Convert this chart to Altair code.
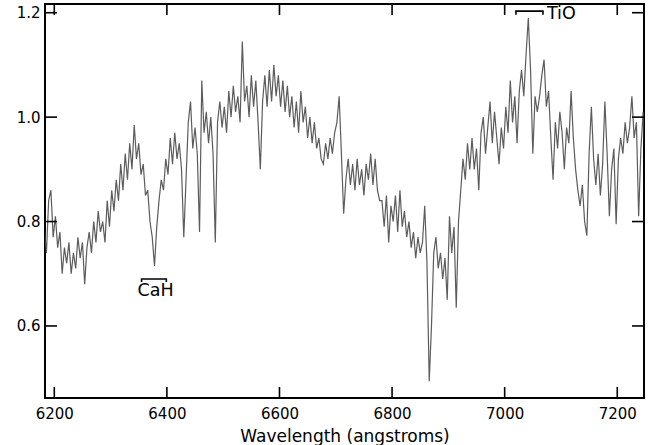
import altair as alt
import pandas as pd

# Wavelength grid (angstroms) and flux values
wavelength = [
    6182, 6186, 6190, 6194, 6198, 6202, 6206, 6210, 6214, 6218,
    6222, 6226, 6230, 6234, 6238, 6242, 6246, 6250, 6254, 6258,
    6262, 6266, 6270, 6274, 6278, 6282, 6286, 6290, 6294, 6298,
    6302, 6306, 6310, 6314, 6318, 6322, 6326, 6330, 6334, 6338,
    6342, 6346, 6350, 6354, 6358, 6362, 6366, 6370, 6374, 6378,
    6382, 6386, 6390, 6394, 6398, 6402, 6406, 6410, 6414, 6418,
    6422, 6426, 6430, 6434, 6438, 6442, 6446, 6450, 6454, 6458,
    6462, 6466, 6470, 6474, 6478, 6482, 6486, 6490, 6494, 6498,
    6502, 6506, 6510, 6514, 6518, 6522, 6526, 6530, 6534, 6538,
    6542, 6546, 6550, 6554, 6558, 6562, 6566, 6570, 6574, 6578,
    6582, 6586, 6590, 6594, 6598, 6602, 6606, 6610, 6614, 6618,
    6622, 6626, 6630, 6634, 6638, 6642, 6646, 6650, 6654, 6658,
    6662, 6666, 6670, 6674, 6678, 6682, 6686, 6690, 6694, 6698,
    6702, 6706, 6710, 6714, 6718, 6722, 6726, 6730, 6734, 6738,
    6742, 6746, 6750, 6754, 6758, 6762, 6766, 6770, 6774, 6778,
    6782, 6786, 6790, 6794, 6798, 6802, 6806, 6810, 6814, 6818,
    6822, 6826, 6830, 6834, 6838, 6842, 6846, 6850, 6854, 6858,
    6862, 6866, 6870, 6874, 6878, 6882, 6886, 6890, 6894, 6898,
    6902, 6906, 6910, 6914, 6918, 6922, 6926, 6930, 6934, 6938,
    6942, 6946, 6950, 6954, 6958, 6962, 6966, 6970, 6974, 6978,
    6982, 6986, 6990, 6994, 6998, 7002, 7006, 7010, 7014, 7018,
    7022, 7026, 7030, 7034, 7038, 7042, 7046, 7050, 7054, 7058,
    7062, 7066, 7070, 7074, 7078, 7082, 7086, 7090, 7094, 7098,
    7102, 7106, 7110, 7114, 7118, 7122, 7126, 7130, 7134, 7138,
    7142, 7146, 7150, 7154, 7158, 7162, 7166, 7170, 7174, 7178,
    7182, 7186, 7190, 7194, 7198, 7202, 7206, 7210, 7214, 7218,
    7222, 7226, 7230, 7234, 7238, 7242, 7246, 7250,
]
flux = [
    0.79, 0.74, 0.84, 0.86, 0.77, 0.81, 0.75, 0.78, 0.70, 0.75,
    0.72, 0.76, 0.70, 0.74, 0.71, 0.77, 0.73, 0.76, 0.68, 0.75,
    0.78, 0.74, 0.80, 0.76, 0.82, 0.78, 0.80, 0.76, 0.84, 0.79,
    0.86, 0.82, 0.88, 0.84, 0.91, 0.86, 0.93, 0.88, 0.95, 0.90,
    0.985, 0.92, 0.95, 0.89, 0.91, 0.85, 0.86, 0.80, 0.77, 0.715,
    0.79, 0.84, 0.88, 0.86, 0.92, 0.89, 0.96, 0.91, 0.97, 0.92,
    0.95, 0.90, 0.77, 0.88, 0.99, 1.03, 0.94, 0.98, 0.93, 0.78,
    1.07, 0.97, 1.01, 0.95, 1.00, 0.93, 0.76, 0.99, 1.03, 0.98,
    1.02, 0.97, 1.05, 1.00, 1.06, 1.01, 1.04, 0.99, 1.145, 1.03,
    1.06, 1.00, 1.08, 1.02, 1.07, 0.99, 0.90, 1.03, 1.08, 1.02,
    1.09, 1.03, 1.10, 1.04, 1.08, 1.02, 1.07, 1.01, 1.06, 1.00,
    1.04, 0.98, 1.03, 0.97, 1.05, 0.99, 1.02, 0.96, 1.00, 0.95,
    0.99, 0.94, 0.96, 0.92, 0.91, 0.95, 0.92, 0.96, 0.93, 0.97,
    0.99, 1.04, 0.93, 0.815, 0.88, 0.92, 0.87, 0.91, 0.86, 0.92,
    0.87, 0.90, 0.85, 0.91, 0.88, 0.93, 0.87, 0.92, 0.86, 0.84,
    0.84, 0.79, 0.85, 0.76, 0.83, 0.80, 0.85, 0.78, 0.86, 0.79,
    0.82, 0.77, 0.80, 0.75, 0.78, 0.73, 0.77, 0.74, 0.76, 0.83,
    0.72, 0.494, 0.60, 0.74, 0.77, 0.71, 0.74, 0.69, 0.73, 0.65,
    0.81, 0.74, 0.79, 0.635, 0.80, 0.86, 0.92, 0.88, 0.95, 0.90,
    0.96, 0.90, 0.94, 0.86, 0.97, 1.00, 0.93, 0.98, 1.03, 0.95,
    1.01, 0.96, 0.91, 0.98, 0.94, 1.02, 0.97, 1.07, 0.99, 1.04,
    0.95, 1.05, 1.09, 1.04, 1.12, 1.19, 1.09, 0.93, 1.04, 1.01,
    1.04, 1.08, 1.11, 1.02, 1.05, 0.96, 0.88, 0.99, 0.94, 1.01,
    0.97, 0.90, 0.98, 0.95, 1.05, 0.96, 0.90, 0.86, 0.83, 0.87,
    0.80, 0.773, 0.93, 1.02, 0.92, 0.87, 0.93, 0.85, 0.91, 1.03,
    0.93, 0.81, 0.90, 0.94, 0.795, 0.92, 0.96, 0.93, 0.99, 0.95,
    0.98, 1.04, 0.96, 0.99, 0.81, 0.94, 1.01, 0.90,
]

x_ticks = [6200, 6400, 6600, 6800, 7000, 7200]
y_ticks = [0.6, 0.8, 1.0, 1.2]

# band annotations: label, start, end, bracket level, label position
band_labels = ["CaH", "TiO"]
band_start = [6355, 7020]
band_end = [6399, 7068]
band_level = [0.690, 1.203]
band_tip = [0.684, 1.196]
label_x = [6380, 7075]
label_y = [0.667, 1.197]

X_DOMAIN = [6183.5, 7247.5]
Y_DOMAIN = [0.462, 1.2167]
W, H = 599, 394
FONT = "DejaVu Sans"

spec = pd.DataFrame({"wl": wavelength, "flux": flux})

xs = alt.Scale(domain=X_DOMAIN, nice=False, zero=False)
ys = alt.Scale(domain=Y_DOMAIN, nice=False, zero=False)
xaxis = alt.Axis(
    values=x_ticks, format="d", domain=False, ticks=False, tickSize=0,
    grid=False, labelFont=FONT, labelFontSize=15, labelColor="black",
    labelPadding=8, title="Wavelength (angstroms)", titleFont=FONT,
    titleFontSize=17, titleFontWeight="normal", titleColor="black",
    titlePadding=7)
yaxis = alt.Axis(
    values=y_ticks, format=".1f", domain=False, ticks=False, tickSize=0,
    grid=False, labelFont=FONT, labelFontSize=15, labelColor="black",
    labelPadding=5, title=None)

line = alt.Chart(spec).mark_line(
    color="#4a4a4a", strokeWidth=1.2, opacity=0.9, clip=True
).encode(
    x=alt.X("wl:Q", scale=xs, axis=xaxis),
    y=alt.Y("flux:Q", scale=ys, axis=yaxis),
)

xt = pd.DataFrame({"v": x_ticks})
yt = pd.DataFrame({"v": y_ticks})
TL = 11
bottom_ticks = alt.Chart(xt).mark_rule(color="black", strokeWidth=1.6).encode(
    x=alt.X("v:Q", scale=xs, axis=xaxis), y=alt.value(H), y2=alt.value(H - TL))
top_ticks = alt.Chart(xt).mark_rule(color="black", strokeWidth=1.6).encode(
    x=alt.X("v:Q", scale=xs, axis=xaxis), y=alt.value(0), y2=alt.value(TL))
left_ticks = alt.Chart(yt).mark_rule(color="black", strokeWidth=1.6).encode(
    y=alt.Y("v:Q", scale=ys, axis=yaxis), x=alt.value(0), x2=alt.value(TL + 1))
right_ticks = alt.Chart(yt).mark_rule(color="black", strokeWidth=1.6).encode(
    y=alt.Y("v:Q", scale=ys, axis=yaxis), x=alt.value(W), x2=alt.value(W - TL - 1))

rows = []
for i, lab in enumerate(band_labels):
    rows += [
        {"band": lab, "o": 0, "x": band_start[i], "y": band_tip[i]},
        {"band": lab, "o": 1, "x": band_start[i], "y": band_level[i]},
        {"band": lab, "o": 2, "x": band_end[i], "y": band_level[i]},
        {"band": lab, "o": 3, "x": band_end[i], "y": band_tip[i]},
    ]
brackets = alt.Chart(pd.DataFrame(rows)).mark_line(
    color="black", strokeWidth=1.6).encode(
    x=alt.X("x:Q", scale=xs, axis=xaxis),
    y=alt.Y("y:Q", scale=ys, axis=yaxis),
    detail="band:N", order="o:Q")

lab_df = pd.DataFrame({"t": band_labels, "x": label_x, "y": label_y})
cah = alt.Chart(lab_df.iloc[[0]]).mark_text(
    font=FONT, fontSize=17.5, color="black", align="center", baseline="middle"
).encode(x=alt.X("x:Q", scale=xs, axis=xaxis),
         y=alt.Y("y:Q", scale=ys, axis=yaxis), text="t:N")
tio = alt.Chart(lab_df.iloc[[1]]).mark_text(
    font=FONT, fontSize=17.5, color="black", align="left", baseline="middle"
).encode(x=alt.X("x:Q", scale=xs, axis=xaxis),
         y=alt.Y("y:Q", scale=ys, axis=yaxis), text="t:N")

chart = alt.layer(
    line, bottom_ticks, top_ticks, left_ticks, right_ticks, brackets, cah, tio
).properties(
    width=W, height=H,
    autosize=alt.AutoSizeParams(type="none"),
    padding={"left": 45, "top": 4, "right": 10, "bottom": 47},
    background="white",
).configure_view(
    stroke="black", strokeWidth=2
)

chart.save("out.html", embed_options={"renderer": "svg", "actions": False})
